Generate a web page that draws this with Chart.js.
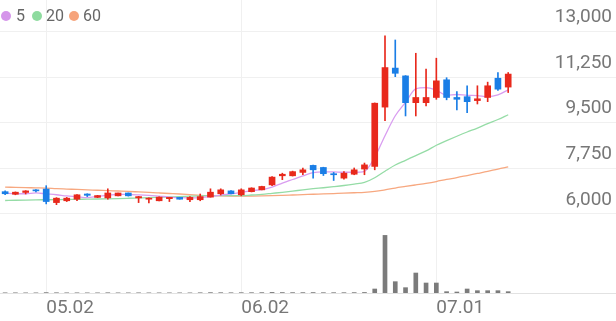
<!DOCTYPE html>
<html><head><meta charset="utf-8">
<script src="https://cdn.jsdelivr.net/npm/chart.js@4.4.1/dist/chart.umd.min.js"></script>
<style>
html,body{margin:0;padding:0;background:#fff;}
#wrap{position:relative;width:616px;height:321px;overflow:hidden;}
canvas{display:block;}
.lg{position:absolute;font-family:Roboto,sans-serif;font-size:16px;line-height:22px;color:#666;top:5px;}
.dot{position:absolute;width:10px;height:10px;border-radius:50%;top:11px;}
</style></head><body>
<div id="wrap">
<canvas id="c" width="616" height="321"></canvas>
<span class="dot" style="left:1px;background:#d595ea"></span><span class="lg" style="left:16px">5</span>
<span class="dot" style="left:32px;background:#8edb9f"></span><span class="lg" style="left:46px">20</span>
<span class="dot" style="left:69px;background:#f6a47c"></span><span class="lg" style="left:83px">60</span>
</div>
<script>
const dates = ['04.25','04.28','04.29','04.30','05.02','05.07','05.08','05.09','05.12','05.13',
 '05.14','05.15','05.16','05.19','05.20','05.21','05.22','05.23','05.26','05.27',
 '05.28','05.29','05.30','06.02','06.04','06.05','06.09','06.10','06.11','06.12',
 '06.13','06.16','06.17','06.18','06.19','06.20','06.23','06.24','06.25','06.26',
 '06.27','06.30','07.01','07.02','07.03','07.04','07.07','07.08','07.09','07.10',
 '','','','','','','','','',''];
const opens  = [6850,6750,6820,6920,6950,6430,6500,6560,6760,6630,6610,6690,6800,6610,6560,6500,6580,6630,6540,6540,
 6640,6770,6880,6730,6850,6920,7110,7460,7460,7590,7860,7780,7540,7370,7520,7720,7820,10100,11600,11300,
 10270,10270,10470,11150,10470,10500,10350,10470,11210,10870];
const highs  = [6880,6840,6890,6930,7080,6620,6630,6740,6770,6710,6960,6800,6800,6670,6610,6650,6630,6630,6660,6760,
 6960,6960,6890,6960,7000,7060,7430,7560,7640,7760,7870,7790,7590,7620,7760,7950,10260,12840,12680,11310,
 12170,11560,11980,11230,10700,10920,10920,11060,11430,11430];
const lows   = [6730,6730,6760,6840,6380,6350,6470,6500,6660,6620,6560,6690,6680,6430,6420,6490,6470,6560,6470,6500,
 6640,6720,6760,6690,6840,6920,7080,7310,7450,7500,7370,7470,7280,7330,7500,7500,7690,9580,11270,9760,
 9760,10150,10400,10380,9990,9890,10220,10310,10740,10660];
const closes = [6770,6830,6880,6880,6470,6600,6600,6730,6710,6700,6800,6800,6690,6660,6600,6640,6630,6560,6630,6660,
 6830,6920,6770,6920,6990,7050,7410,7520,7620,7690,7690,7540,7500,7560,7690,7880,10250,11620,11400,10270,
 10470,10470,11110,10470,10400,10310,10420,10920,10790,11370];
const volumes = [30,30,25,25,60,40,30,30,25,25,40,25,25,30,25,25,25,25,25,40,
 60,50,40,50,50,60,90,70,60,60,70,50,50,50,60,80,600,8650,1700,800,
 3000,1500,1500,200,150,600,350,350,350,200];
const ma5  = [6800,6770,6770,6800,6766,6732,6686,6656,6622,6668,6708,6748,6740,6730,6710,6678,6644,6618,6612,6624,
 6662,6720,6762,6820,6886,6930,7028,7178,7318,7458,7586,7612,7608,7596,7596,7634,8176,9000,9768,10284,
 10802,10846,10744,10558,10584,10552,10542,10504,10568,10762];
const ma20 = [6510,6520,6528,6535,6540,6545,6550,6556,6562,6568,6576,6585,6596,6608,6620,6634,6648,6662,6678,6692,
 6695,6700,6694,6696,6722,6745,6785,6825,6870,6920,6964,7001,7042,7087,7141,7203,7384,7637,7876,8056,
 8238,8416,8633,8810,8981,9144,9294,9464,9623,9807];
const ma60 = [7025,7015,7005,6995,6985,6965,6950,6935,6920,6905,6890,6875,6860,6840,6820,6800,6780,6760,6735,6710,
 6695,6685,6678,6675,6678,6685,6695,6708,6722,6736,6750,6764,6778,6792,6808,6825,6860,6920,6990,7050,
 7110,7170,7240,7320,7390,7470,7550,7630,7720,7800];
const priceTicks = [6000,7750,9500,11250,13000];
const dateTicks = ['05.02','06.02','07.01'];

const RED = '#e8291c', BLUE = '#1a7ee6';
const candleColors = opens.map((o, i) => closes[i] >= o ? RED : BLUE);

new Chart(document.getElementById('c'), {
  data: {
    labels: dates,
    datasets: [
      {type:'line', label:'5', data: ma5, yAxisID:'y', borderColor:'#d99df0', borderWidth:1.3, pointRadius:0, cubicInterpolationMode:'monotone', order:5},
      {type:'line', label:'20', data: ma20, yAxisID:'y', borderColor:'#95dca6', borderWidth:1.3, pointRadius:0, cubicInterpolationMode:'monotone', order:6},
      {type:'line', label:'60', data: ma60, yAxisID:'y', borderColor:'#f7a880', borderWidth:1.3, pointRadius:0, cubicInterpolationMode:'monotone', order:7},
      {type:'bar', label:'wick', data: lows.map((l, i) => [l, highs[i]]), yAxisID:'y', backgroundColor: candleColors, barThickness:1, grouped:false, order:2},
      {type:'bar', label:'body', data: opens.map((o, i) => [o, closes[i]]), yAxisID:'y', backgroundColor: candleColors, barThickness:6, minBarLength:1, grouped:false, order:1},
      {type:'bar', label:'vol', data: volumes, yAxisID:'yv', backgroundColor:'#7b7b7b', barThickness:4, grouped:false, order:1}
    ]
  },
  options: {
    responsive:false, animation:false, devicePixelRatio:1,
    layout:{padding:0},
    plugins:{legend:{display:false}, tooltip:{enabled:false}},
    scales:{
      x:{
        type:'category', offset:true,
        grid:{offset:false, color:'#f0f0f0', drawTicks:false},
        border:{display:true, color:'#e2e2e2'},
        ticks:{align:'start', autoSkip:false, maxRotation:0, padding:4, color:'#777', font:{family:'Roboto', size:19}},
        afterBuildTicks: s => { s.ticks = dateTicks.map(d => ({value: dates.indexOf(d)})); },
        afterFit: s => { s.height = 28; s.paddingLeft = 0; s.paddingRight = 0; }
      },
      y:{
        position:'right', min:2955, max:14217,
        grid:{color:'#f0f0f0', drawTicks:false},
        border:{display:false},
        ticks:{mirror:true, padding:-4, labelOffset:-14, color:'#777', font:{family:'Roboto', size:19},
          callback: v => v.toLocaleString('en-US')},
        afterBuildTicks: s => { s.ticks = priceTicks.map(v => ({value: v})); },
        afterFit: s => { s.width = 0; s.paddingTop = 0; s.paddingBottom = 0; }
      },
      yv:{display:false, min:0, max:44000}
    }
  }
});
</script>
</body></html>
